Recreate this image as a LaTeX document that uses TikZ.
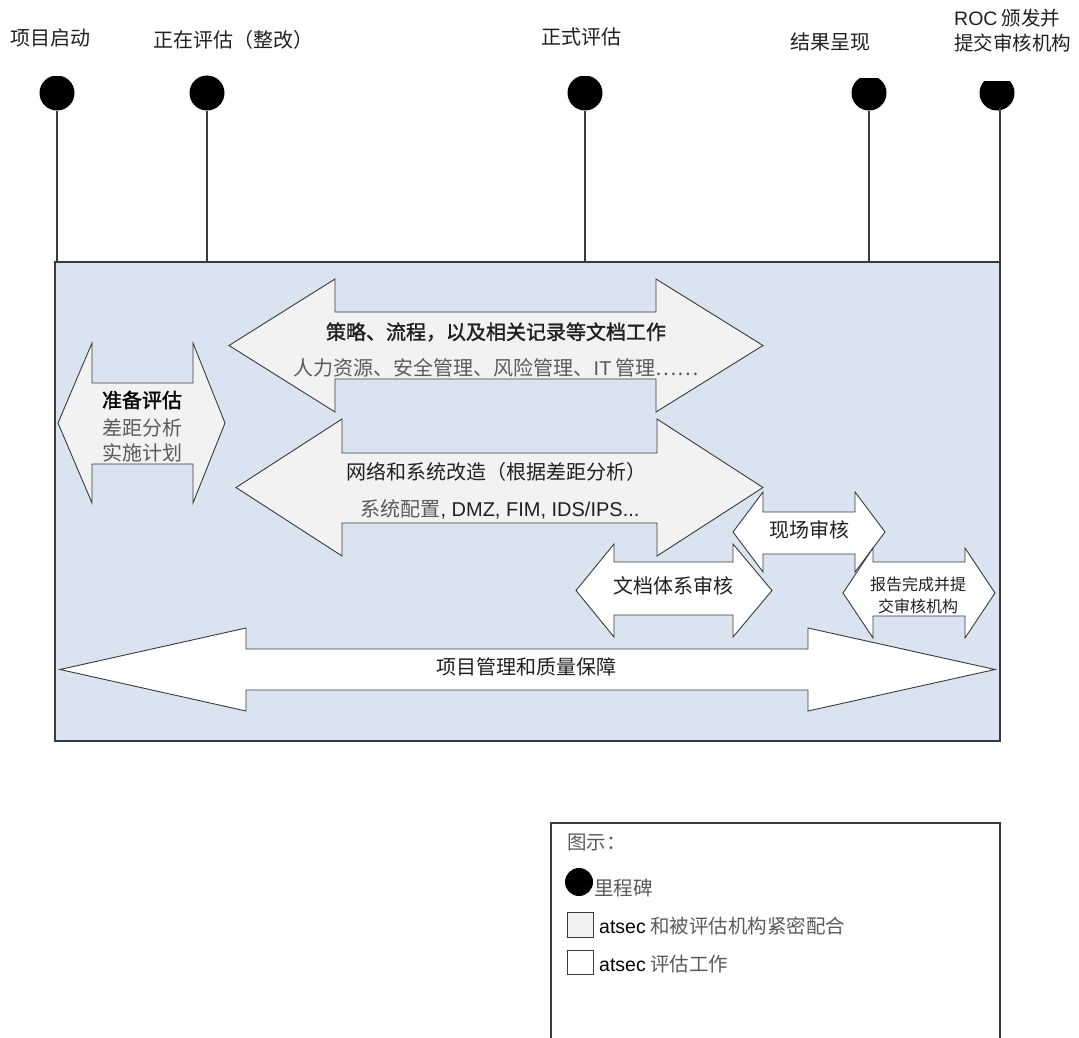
\documentclass[tikz,border=0pt]{standalone}
\usepackage{fontspec}
\setmainfont{Liberation Sans}
\newfontfamily\cjk{Noto Sans CJK SC}
\newfontfamily\cjkfb{Noto Sans CJK SC}[FakeBold=1.6]
\definecolor{bgblue}{HTML}{DAE4F0}
\definecolor{arrgray}{HTML}{F2F2F2}
\definecolor{edgec}{HTML}{3A3A3A}
\definecolor{txtgray}{HTML}{5A5A5A}
\definecolor{txtdark}{HTML}{202020}
% style, xL, xbL, xbR, xR, headtop, shafttop, shaftbottom, headbottom
\newcommand\dblarrow[9]{%
  \draw[#1] (#2,{(#6+#9)/2}) -- (#3,#6) -- (#3,#7) -- (#4,#7) -- (#4,#6) -- (#5,{(#6+#9)/2})
    -- (#4,#9) -- (#4,#8) -- (#3,#8) -- (#3,#9) -- cycle;}
\tikzset{
  arrgrey/.style={draw=edgec, line width=0.9pt, fill=arrgray, line join=miter},
  arrwhite/.style={draw=edgec, line width=0.9pt, fill=white, line join=miter},
  lbl/.style={font=\cjk\fontsize{20}{23}\selectfont, text=txtdark, inner sep=0pt},
  sublbl/.style={lbl, text=txtgray},
  leglbl/.style={font=\cjk\fontsize{19.5}{22}\selectfont, text=txtgray, inner sep=0pt, anchor=west},
  mdot/.style={circle, fill=black, minimum size=35pt, inner sep=0pt},
  stem/.style={draw=edgec, line width=1.2pt},
}
\begin{document}
\begin{tikzpicture}[x=1pt, y=-1pt]
\useasboundingbox (0,0) rectangle (1079,1038);

% main panel
\draw[draw=edgec, line width=1.2pt, fill=bgblue] (55,262) rectangle (1000,741);

% milestones
\foreach \n/\x/\t in {m1/57/77, m2/207/76, m3/585/77, m4/869/79, m5/997/82}{
  \begin{scope}
    \clip (\x-22,\t) rectangle (\x+22,120);
    \node[mdot] (\n) at (\x,93) {};
  \end{scope}
}
\coordinate (b1) at (57,262);
\coordinate (b2) at (207,262);
\coordinate (b3) at (585,262);
\coordinate (b4) at (869,262);
\coordinate (b5) at (1000,262);
\coordinate (t5) at (1000,108);
\draw[stem] (m1) -- (b1);
\draw[stem] (m2) -- (b2);
\draw[stem] (m3) -- (b3);
\draw[stem] (m4) -- (b4);
\draw[stem] (t5) -- (b5);

% milestone labels
\node[lbl] (l1) at (50,38) {项目启动};
\node[lbl] (l2) at (233,40) {正在评估（整改）};
\node[lbl] (l3) at (581,37) {正式评估};
\node[lbl] (l4) at (830,42) {结果呈现};
\node[lbl, anchor=west, align=left, font=\cjk\fontsize{19.5}{25}\selectfont] (l5) at (954,31) {{\rmfamily ROC} 颁发并\\提交审核机构};

% arrows
\dblarrow{arrgrey}{58}{92}{193}{225}{343}{383}{464}{503}
\dblarrow{arrgrey}{229}{335}{656}{763}{279}{312}{379}{412}
\dblarrow{arrgrey}{236}{342}{657}{763}{419}{453}{523}{556}
\dblarrow{arrwhite}{576}{614}{733}{772}{544}{562}{615}{637}
\dblarrow{arrwhite}{733}{763}{855}{885}{492}{512}{554}{572}
\dblarrow{arrwhite}{843}{873}{965}{995}{548}{562}{616}{638}
\dblarrow{arrwhite}{60}{246}{808}{995}{628}{649}{690}{711}

% arrow texts
\node[lbl, font=\cjkfb\fontsize{20}{23}\selectfont, text=black] (a1) at (142,400) {准备评估};
\node[sublbl] (a2) at (142,428) {差距分析};
\node[sublbl] (a3) at (142,453) {实施计划};
\node[lbl, font=\cjkfb\fontsize{20}{23}\selectfont] (p1) at (496,332) {策略、流程，以及相关记录等文档工作};
\node[sublbl] (p2) at (496,368) {人力资源、安全管理、风险管理、{\rmfamily IT} 管理……};
\node[lbl] (n1) at (496,472) {网络和系统改造（根据差距分析）};
\node[sublbl] (n2) at (500,509) {系统配置{\rmfamily\color{txtdark}, DMZ, FIM, IDS/IPS...}};
\node[lbl] (s1) at (809,530) {现场审核};
\node[lbl] (d1) at (673,586) {文档体系审核};
\node[lbl, align=center, font=\cjk\fontsize{16}{22}\selectfont] (r1) at (918,595) {报告完成并提\\交审核机构};
\node[lbl] (q1) at (526,667) {项目管理和质量保障};

% legend
\coordinate (lg1) at (551,1045);
\coordinate (lg2) at (551,823);
\coordinate (lg3) at (1000,823);
\coordinate (lg4) at (1000,1045);
\draw[draw=edgec, line width=1.2pt] (lg1) -- (lg2) -- (lg3) -- (lg4);
\node[leglbl] (g0) at (567,843) {图示：};
\node[circle, fill=black, minimum size=28pt, inner sep=0pt] (gd) at (579,882) {};
\node[leglbl] (g1) at (594,888) {里程碑};
\draw[draw=edgec, line width=1pt, fill=arrgray] (567,912) rectangle (593,937);
\node[leglbl] (g2) at (599,926) {{\rmfamily\color{black}atsec} 和被评估机构紧密配合};
\draw[draw=edgec, line width=1pt, fill=white] (567,950) rectangle (593,974);
\node[leglbl] (g3) at (599,964) {{\rmfamily\color{black}atsec} 评估工作};
\end{tikzpicture}
\end{document}
